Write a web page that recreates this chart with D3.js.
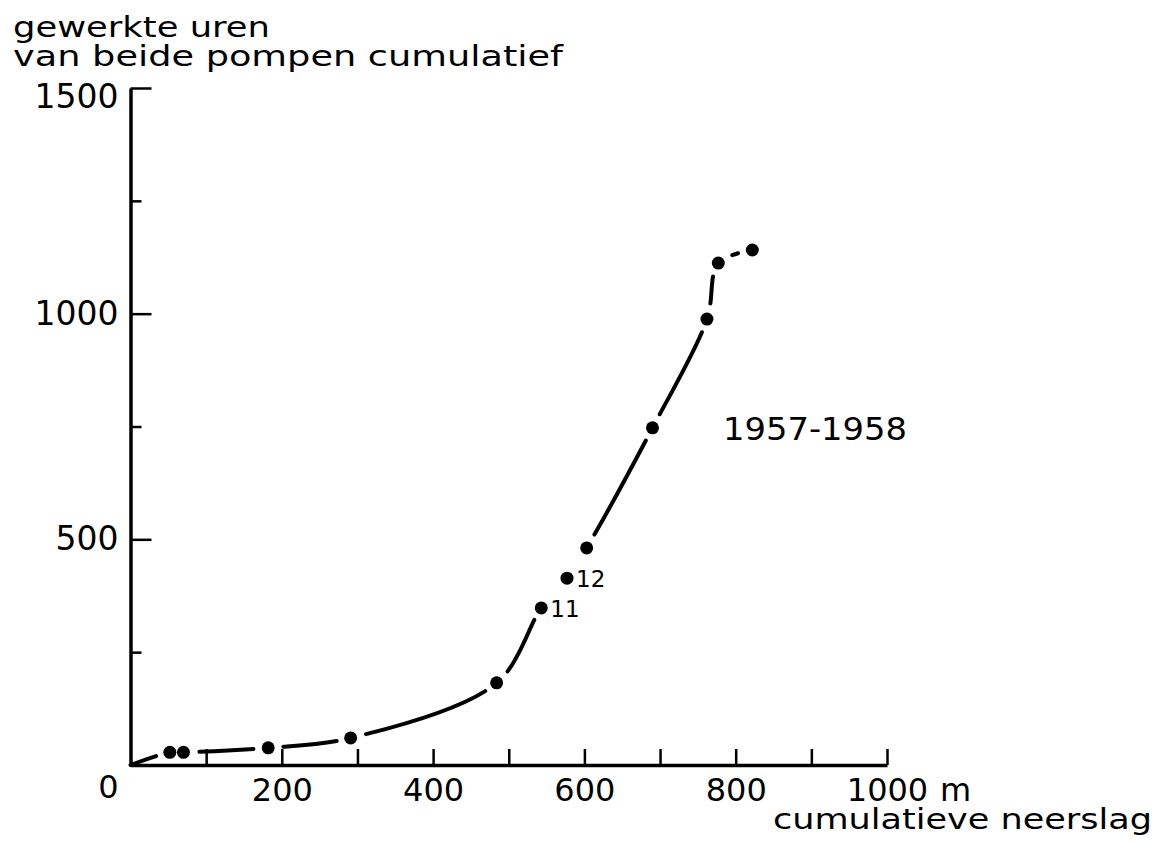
<!DOCTYPE html>
<html>
<head>
<meta charset="utf-8">
<script src="https://cdn.jsdelivr.net/npm/d3@7"></script>
<style>
  body { margin: 0; background: #fff; }
  svg { display: block; }
  text { font-family: "DejaVu Sans", sans-serif; fill: #000; }
</style>
</head>
<body>
<div id="chart"></div>
<script>
// gemeten punten (cumulatieve neerslag in mm, gewerkte uren cumulatief)
const rainfall = [52, 70, 182, 291, 484, 543, 577, 603, 690, 762, 777, 822];
const hours    = [28, 28, 38, 60, 182, 348, 414, 481, 747, 988, 1112, 1141];
const pointLabels = ["", "", "", "", "", "11", "12", "", "", "", "", ""];

const xTicks = [100, 200, 300, 400, 500, 600, 700, 800, 900, 1000];
const xLabels = [200, 400, 600, 800, 1000];
const yMajor = [500, 1000, 1500];
const yMinor = [250, 750, 1250];

const width = 1159;
const height = 845;

const svg = d3.select("#chart").append("svg")
  .attr("width", width)
  .attr("height", height);

svg.append("rect").attr("width", width).attr("height", height).attr("fill", "#fff");

// schalen
const x = d3.scaleLinear().domain([0, 1000]).range([130.5, 887]);
const y = d3.scaleLinear().domain([0, 1500]).range([765, 88]);

// x-as, streepjes naar binnen
const xAxis = d3.axisBottom(x)
  .tickValues(xTicks)
  .tickSizeInner(-16)
  .tickSizeOuter(0)
  .tickPadding(13)
  .tickFormat(d => xLabels.includes(d) ? d : "");
const gx = svg.append("g")
  .attr("transform", `translate(0,${y(0)})`)
  .call(xAxis);
gx.select(".domain").attr("stroke-width", 3.5);
gx.selectAll(".tick line").attr("stroke-width", 2.5);
gx.selectAll(".tick text").attr("font-size", 32).attr("font-family", "DejaVu Sans");

// y-as: lange en korte streepjes
const yAxis = d3.axisLeft(y)
  .tickValues(yMajor)
  .tickSizeInner(-21)
  .tickSizeOuter(0)
  .tickPadding(12)
  .tickFormat(d3.format("d"));
const gy = svg.append("g")
  .attr("transform", `translate(${x(0)},0)`)
  .call(yAxis);
gy.select(".domain").attr("stroke-width", 3.5);
gy.selectAll(".tick line").attr("stroke-width", 2.5);
gy.selectAll(".tick text")
  .attr("font-size", 33)
  .attr("font-family", "DejaVu Sans")
  .attr("dy", d => d === 1500 ? "0.6em" : "0.32em");

const gyMinor = svg.append("g")
  .attr("transform", `translate(${x(0)},0)`)
  .call(d3.axisLeft(y).tickValues(yMinor).tickSizeInner(-11).tickSizeOuter(0).tickFormat(""));
gyMinor.select(".domain").remove();
gyMinor.selectAll(".tick line").attr("stroke-width", 2.5);

// 0 in de oorsprong
svg.append("text")
  .attr("x", x(0) - 22)
  .attr("y", y(0) + 10)
  .attr("dy", "0.71em")
  .attr("text-anchor", "middle")
  .attr("font-size", 32)
  .text("0");

svg.append("text")
  .attr("x", x(1000) + 53)
  .attr("y", y(0) + 13)
  .attr("dy", "0.71em")
  .attr("font-size", 32)
  .text("m");

// gladde kromme door de oorsprong en alle punten
const curveData = [[0, 0]].concat(rainfall.map((r, i) => [r, hours[i]]));
const line = d3.line()
  .x(d => x(d[0]))
  .y(d => y(d[1]))
  .curve(d3.curveCatmullRom.alpha(0.5));

const path = svg.append("path")
  .datum(curveData)
  .attr("d", line)
  .attr("fill", "none")
  .attr("stroke", "#000")
  .attr("stroke-width", 4)
  .attr("stroke-linecap", "round");

// onderbreek de lijn rond elk punt en bij de genummerde punten
const gapR = 15;
const labelled = pointLabels.map((l, i) => l ? i : -1).filter(i => i >= 0);
const hideFrom = x(rainfall[labelled[0]]);
const hideTo = x(rainfall[labelled[labelled.length - 1] + 1]);
const dotsPx = rainfall.map((r, i) => [x(r), y(hours[i])]);
const node = path.node();
const total = node.getTotalLength();
const dash = [];
let visible = true;
let run = 0;
for (let s = 0; s <= total; s += 1) {
  const p = node.getPointAtLength(s);
  const near = dotsPx.some(d => Math.hypot(d[0] - p.x, d[1] - p.y) < gapR);
  const hidden = near || (p.x > hideFrom && p.x < hideTo);
  if (!hidden === visible) {
    run += 1;
  } else {
    dash.push(run);
    run = 1;
    visible = !hidden;
  }
}
dash.push(run);
if (dash.length % 2 === 1) dash.push(0);
path.attr("stroke-dasharray", dash.join(" "));

// punten
svg.selectAll("circle.dot")
  .data(rainfall)
  .join("circle")
  .attr("class", "dot")
  .attr("cx", d => x(d))
  .attr("cy", (d, i) => y(hours[i]))
  .attr("r", 6.5)
  .attr("fill", "#000");

svg.selectAll("text.plabel")
  .data(pointLabels)
  .join("text")
  .attr("class", "plabel")
  .attr("x", (d, i) => x(rainfall[i]) + 9)
  .attr("y", (d, i) => y(hours[i]) + 1)
  .attr("dy", "0.36em")
  .attr("font-size", 23)
  .text(d => d);

// titels
svg.append("text")
  .attr("x", 13).attr("y", 37)
  .attr("font-size", 29)
  .attr("textLength", 257).attr("lengthAdjust", "spacingAndGlyphs")
  .text("gewerkte uren");
svg.append("text")
  .attr("x", 13).attr("y", 66)
  .attr("font-size", 29)
  .attr("textLength", 550).attr("lengthAdjust", "spacingAndGlyphs")
  .text("van beide pompen cumulatief");
svg.append("text")
  .attr("x", 773).attr("y", 829)
  .attr("font-size", 29)
  .attr("textLength", 379).attr("lengthAdjust", "spacingAndGlyphs")
  .text("cumulatieve neerslag");
svg.append("text")
  .attr("x", 723).attr("y", 440)
  .attr("font-size", 32)
  .attr("textLength", 184).attr("lengthAdjust", "spacingAndGlyphs")
  .text("1957-1958");
</script>
</body>
</html>
